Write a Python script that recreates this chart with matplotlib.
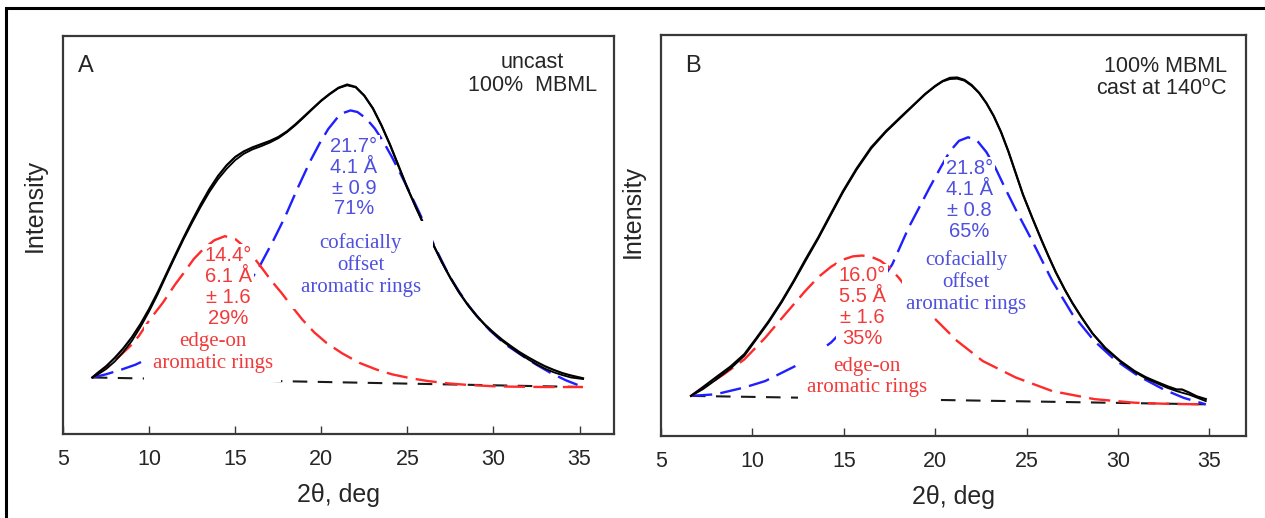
import matplotlib
matplotlib.use("Agg")
import matplotlib.pyplot as plt
from matplotlib.patches import Rectangle

plt.rcParams["font.family"] = ["Liberation Sans", "DejaVu Sans"]

# ---------------- Panel A: uncast 100% MBML ----------------
a_meas_x = [6.7, 7.0, 7.5, 8.0, 8.5, 9.0, 9.5, 10.0, 10.5, 11.0, 11.5, 12.0, 12.5, 13.0,
            13.5, 14.0, 14.5, 15.0, 15.5, 16.0, 16.5, 17.0, 17.5, 18.0, 18.5, 19.0,
            19.5, 20.0, 20.5, 21.0, 21.5, 22.0, 22.5, 23.0, 23.5, 24.0, 24.5, 25.0,
            25.5, 26.0, 26.5, 27.0, 27.5, 28.0, 28.5, 29.0, 29.5, 30.0, 30.5, 31.0,
            31.5, 32.0, 32.5, 33.0, 33.5, 34.0, 34.5, 35.2]
a_meas_y = [14.2, 15.3, 17.0, 19.1, 21.5, 24.3, 27.6, 31.4, 35.6, 40.2, 44.8, 49.3, 53.6,
            57.7, 61.5, 64.8, 67.5, 69.6, 71.0, 72.0, 72.8, 73.6, 74.6, 76.0, 77.8, 79.8,
            81.8, 83.8, 85.5, 87.0, 87.8, 87.2, 85.0, 81.8, 77.5, 72.6, 67.2, 61.8,
            56.9, 52.2, 47.6, 43.2, 39.2, 35.6, 32.5, 29.8, 27.5, 25.5, 23.7, 22.1,
            20.6, 19.3, 18.1, 17.0, 16.1, 15.3, 14.7, 14.0]
a_fit_y = [14.2, 14.9, 16.3, 18.2, 20.6, 23.4, 26.9, 30.8, 35.1, 39.8, 44.4, 48.9, 53.1,
           57.1, 60.8, 64.0, 66.6, 68.8, 70.4, 71.5, 72.3, 73.2, 74.3, 75.8, 77.6, 79.6,
           81.7, 83.7, 85.4, 86.9, 87.6, 87.1, 85.0, 81.8, 77.5, 72.6, 67.2, 61.8,
           56.9, 52.2, 47.6, 43.2, 39.2, 35.6, 32.5, 29.8, 27.4, 25.3, 23.4, 21.8,
           20.2, 18.8, 17.5, 16.4, 15.5, 14.8, 14.2, 13.8]

a_red_x = [6.73, 7.5, 8.2, 9.0, 9.4, 10.0, 10.8, 11.5, 12.0, 12.6, 13.2, 13.8, 14.4,
           15.0, 15.55, 16.0, 16.5, 17.1, 17.7, 18.3, 18.9, 19.6, 20.3, 21.2, 22.2,
           23.2, 24.1, 25.2, 26.2, 27.4, 28.6, 30.0, 31.0, 33.0, 35.2]
a_red_y = [14.2, 16.8, 19.2, 22.5, 24.6, 28.5, 33.0, 37.5, 40.4, 44.0, 46.7, 48.7, 49.7,
           49.0, 47.0, 44.8, 42.0, 38.5, 35.4, 32.0, 28.75, 25.5, 22.9, 20.3, 17.9,
           16.2, 15.0, 14.0, 13.3, 12.7, 12.3, 12.0, 11.9, 11.8, 11.8]

a_blue_x = [6.73, 7.5, 8.44, 9.2, 9.86, 11.0, 12.5, 14.0, 15.2, 16.4, 17.2, 17.9, 18.6,
            19.35, 19.9, 20.4, 20.9, 21.3, 21.7, 22.1, 22.6, 23.1, 23.6, 24.1, 24.6,
            25.1, 25.6, 26.1, 26.6, 27.4, 28.0, 28.6, 29.2, 29.8, 30.7, 31.7, 32.5,
            33.3, 34.2, 35.2]
a_blue_y = [14.2, 15.0, 16.25, 17.4, 18.75, 20.5, 24.0, 28.5, 34.0, 42.0, 48.5, 54.6, 61.5,
            68.5, 73.0, 76.6, 79.3, 80.7, 81.3, 80.9, 79.3, 76.8, 73.5, 69.6, 65.4,
            61.0, 56.5, 51.8, 47.0, 40.0, 35.8, 32.0, 28.8, 26.0, 22.5, 19.6, 17.4,
            15.4, 13.5, 11.8]

a_base_x = [6.73, 35.2]
a_base_y = [14.2, 11.8]

a_red_peak = ["14.4°", "6.1 Å", "± 1.6", "29%"]
a_blue_peak = ["21.7°", "4.1 Å", "± 0.9", "71%"]

# ---------------- Panel B: cast at 140 °C ----------------
b_meas_x = [6.64, 7.3, 8.0, 8.8, 9.56, 10.2, 10.9, 11.6, 12.26, 12.9, 13.6, 14.3, 14.96,
            15.7, 16.5, 17.3, 18.1, 18.8, 19.45, 20.0, 20.4, 20.8, 21.2, 21.6, 22.0,
            22.4, 22.8, 23.2, 23.6, 24.0, 24.4, 24.8, 25.3, 25.8, 26.2, 26.6, 27.1,
            27.5, 28.0, 28.6, 29.3, 30.1, 30.9, 31.5, 32.0, 32.7, 33.2, 33.5, 33.9,
            34.3, 34.8]
b_meas_y = [10.0, 12.2, 14.6, 17.3, 20.4, 24.3, 28.7, 33.6, 38.7, 44.0, 49.5, 55.5, 61.1,
            66.7, 72.0, 76.0, 79.5, 82.5, 85.3, 87.3, 88.5, 89.3, 89.4, 88.8, 87.5,
            85.6, 83.0, 79.8, 75.8, 71.0, 65.6, 60.2, 54.5, 49.0, 44.8, 40.8, 36.4,
            33.2, 29.6, 25.6, 22.0, 18.8, 16.2, 14.7, 13.7, 12.4, 11.6, 11.6, 10.8,
            9.9, 9.2]
b_fit_y = [10.0, 11.7, 14.0, 16.8, 20.0, 24.0, 28.4, 33.3, 38.4, 43.6, 49.2, 55.2, 60.8,
           66.4, 71.7, 75.8, 79.3, 82.4, 85.2, 87.2, 88.4, 89.0, 89.1, 88.6, 87.3,
           85.5, 83.0, 79.8, 75.8, 71.0, 65.6, 60.2, 54.5, 49.0, 44.8, 40.8, 36.4,
           33.2, 29.6, 25.6, 21.8, 18.6, 16.0, 14.4, 13.4, 12.0, 11.2, 10.8, 10.3,
           9.6, 8.7]

b_red_x = [6.64, 7.5, 8.44, 9.56, 10.7, 11.8, 12.9, 13.6, 14.3, 14.9, 15.5, 16.0, 16.5,
           17.0, 17.5, 18.0, 18.5, 19.3, 20.1, 21.2, 22.6, 24.4, 26.4, 28.7, 30.9,
           32.8, 34.8]
b_red_y = [10.0, 12.6, 15.4, 19.1, 24.5, 30.4, 36.2, 39.6, 42.2, 43.9, 44.8, 45.0, 44.7,
           43.7, 42.0, 39.5, 36.5, 32.5, 28.7, 23.7, 18.7, 14.6, 11.2, 9.2, 8.3,
           8.0, 7.9]

b_blue_x = [6.64, 7.99, 9.56, 10.7, 11.8, 12.9, 14.3, 15.3, 16.5, 17.65, 18.55, 19.7,
            20.3, 20.8, 21.3, 21.8, 22.3, 22.8, 23.3, 23.8, 24.4, 25.3, 26.4, 27.5,
            28.7, 29.8, 31.1, 32.5, 33.6, 34.8]
b_blue_y = [10.0, 10.4, 12.1, 13.7, 16.2, 18.7, 23.3, 28.0, 35.0, 42.8, 52.0, 62.0,
            67.0, 71.0, 73.6, 74.5, 73.6, 70.8, 66.8, 62.0, 56.5, 48.7, 38.7, 30.4,
            23.7, 19.1, 15.0, 11.6, 9.5, 7.9]

b_base_x = [6.64, 34.8]
b_base_y = [10.0, 7.9]

b_red_peak = ["16.0°", "5.5 Å", "± 1.6", "35%"]
b_blue_peak = ["21.8°", "4.1 Å", "± 0.8", "65%"]

x_ticks = [5, 10, 15, 20, 25, 30, 35]

RED = "#ff2b2b"
BLUE = "#1f1fff"
RED_TXT = "#f23a3a"
BLUE_TXT = "#4f4fe0"
DASH = (0, (9, 3.5))
BASE_DASH = (0, (7, 5))
SERIF = ["Liberation Serif", "DejaVu Serif"]
INK = "#262626"

fig = plt.figure(figsize=(12.65, 5.18), dpi=100)
fig.patch.set_facecolor("white")

# outer frame of the figure (only top and left edges fall inside the canvas)
fig.add_artist(Rectangle((6 / 1265, -0.2), 1.2, 1.2 - 8 / 518,
                         transform=fig.transFigure, fill=False,
                         edgecolor="black", linewidth=2.2, clip_on=False))

axA = fig.add_axes([63 / 1265, (518 - 434) / 518, 551 / 1265, 398 / 518])
axB = fig.add_axes([661 / 1265, (518 - 436) / 518, 585 / 1265, 401 / 518])


def style_axes(ax, ylab_x, ylab_y, xlab_y):
    ax.set_xlim(5, 37)
    ax.set_ylim(0, 100)
    ax.set_xticks(x_ticks)
    ax.set_yticks([])
    for s in ax.spines.values():
        s.set_linewidth(1.6)
        s.set_color("#383838")
    ax.tick_params(axis="x", direction="in", length=6, width=1.0, color="#383838",
                   labelsize=15.5, pad=11, labelcolor=INK)
    ax.set_ylabel("Intensity", fontsize=18, color=INK)
    ax.yaxis.set_label_coords(ylab_x, ylab_y)
    ax.set_xlabel("2θ, deg", fontsize=18, color=INK)
    ax.xaxis.set_label_coords(0.5, xlab_y)
    ax.xaxis.label.set_verticalalignment("top")


def draw_panel(ax, meas_x, meas_y, fit_y, red_x, red_y, blue_x, blue_y, base_x, base_y):
    ax.plot(base_x, base_y, color="#1a1a1a", lw=1.5, ls=BASE_DASH, zorder=2)
    ax.plot(blue_x, blue_y, color=BLUE, lw=1.7, ls=DASH, zorder=2)
    ax.plot(red_x, red_y, color=RED, lw=1.7, ls=DASH, zorder=2)
    ax.plot(meas_x, fit_y, color="black", lw=1.3, zorder=2.2)
    ax.plot(meas_x, meas_y, color="black", lw=1.6, zorder=2.3)


def label_block(ax, x, y, lines, color, serif=False, pad=0.1):
    kw = dict(ha="center", va="center", color=color, zorder=3, linespacing=1.12,
              bbox=dict(boxstyle=f"square,pad={pad}", fc="white", ec="none"))
    if serif:
        kw.update(family=SERIF, fontsize=15, linespacing=1.2)
    else:
        kw.update(fontsize=14.5)
    ax.text(x, y, "\n".join(lines), **kw)


# ---- panel A
style_axes(axA, -0.029, 0.575, -0.123)
draw_panel(axA, a_meas_x, a_meas_y, a_fit_y, a_red_x, a_red_y,
           a_blue_x, a_blue_y, a_base_x, a_base_y)
label_block(axA, 14.6, 36.9, a_red_peak, RED_TXT)
label_block(axA, 13.7, 20.4, ["edge-on", "aromatic rings"], RED_TXT, serif=True, pad=0.4)
label_block(axA, 21.9, 64.4, a_blue_peak, BLUE_TXT)
label_block(axA, 22.3, 42.5, ["cofacially", "offset", "aromatic rings"], BLUE_TXT,
            serif=True, pad=0.6)
axA.text(0.041, 0.925, "A", transform=axA.transAxes, fontsize=17, ha="center",
         va="center", color=INK)
axA.text(0.852, 0.904, "uncast\n100%  MBML", transform=axA.transAxes, fontsize=15.5,
         ha="center", va="center", color=INK, linespacing=1.15)

# ---- panel B
style_axes(axB, -0.028, 0.561, -0.122)
draw_panel(axB, b_meas_x, b_meas_y, b_fit_y, b_red_x, b_red_y,
           b_blue_x, b_blue_y, b_base_x, b_base_y)
label_block(axB, 16.0, 32.2, b_red_peak, RED_TXT)
label_block(axB, 16.26, 14.7, ["edge-on", "aromatic rings"], RED_TXT, serif=True, pad=0.4)
label_block(axB, 21.88, 58.9, b_blue_peak, BLUE_TXT)
label_block(axB, 21.7, 38.4, ["cofacially", "offset", "aromatic rings"], BLUE_TXT,
            serif=True, pad=0.2)
axB.text(0.055, 0.923, "B", transform=axB.transAxes, fontsize=17, ha="center",
         va="center", color=INK)
axB.text(0.967, 0.893, "100% MBML\ncast at 140$^{\\mathregular{o}}$C",
         transform=axB.transAxes, fontsize=15.5, ha="right", va="center",
         color=INK, linespacing=1.15)

fig.savefig("out.png", dpi=100, facecolor="white")
